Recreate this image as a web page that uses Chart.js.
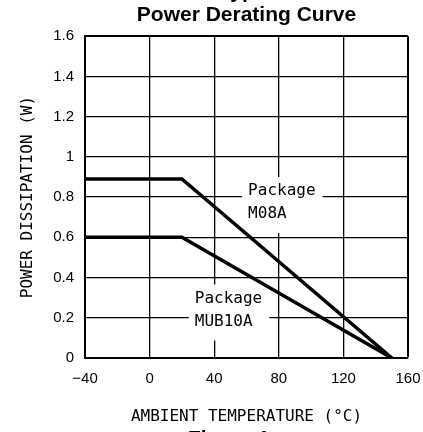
<!DOCTYPE html>
<html>
<head>
<meta charset="utf-8">
<script src="https://cdn.jsdelivr.net/npm/chart.js@4.4.1/dist/chart.umd.min.js"></script>
<style>
  html, body { margin: 0; padding: 0; background: #fff; overflow: hidden; }
  #wrap { position: relative; width: 423px; height: 432px; }
  #wrap canvas { display: block; }
  .cut { position: absolute; font-family: "Liberation Sans", Arial, sans-serif; font-weight: bold; font-size: 21px; line-height: 24px; white-space: nowrap; color: #000; }
  #topline { top: -21px; left: 219px; }
  #figline { top: 426px; left: 188px; }
</style>
</head>
<body>
<div id="wrap">
  <canvas id="chart-canvas" width="423" height="432"></canvas>
  <div class="cut" id="topline">Typical</div>
  <div class="cut" id="figline">Figure 1.</div>
</div>
<script>
// data
const tempC = [-40, 20, 150];
const m08a = [0.89, 0.89, 0];
const mub10a = [0.6, 0.6, 0];
const xTicks = [-40, 0, 40, 80, 120, 160];
const yTicks = [0, 0.2, 0.4, 0.6, 0.8, 1, 1.2, 1.4, 1.6];

// inline package labels (data units: left edge of text, centre of first line)
const labelLines = [['Package', 'M08A'], ['Package', 'MUB10A']];
const labelX = [61, 28];
const labelY = [0.83, 0.296];

const labelFont = '16px "DejaVu Sans Mono", monospace';
const monoFont = { family: '"DejaVu Sans Mono", monospace', size: 16 };
const tickFont = { family: '"Liberation Sans", Arial, sans-serif', size: 15 };

const pts = (ys) => tempC.map((t, i) => ({ x: t, y: ys[i] }));

// white boxes behind the package names, cut into the grid like the original
const labelPlugin = {
    id: 'pkgLabels',
    beforeDatasetsDraw(chart) {
        const ctx = chart.ctx, xs = chart.scales.x, ys = chart.scales.y;
        ctx.save();
        ctx.font = labelFont;
        ctx.textBaseline = 'middle';
        ctx.textAlign = 'left';
        labelLines.forEach((lines, i) => {
            const lx = xs.getPixelForValue(labelX[i]);
            const ly = ys.getPixelForValue(labelY[i]);
            const lh = 23;
            const w = Math.max(...lines.map(s => ctx.measureText(s).width));
            ctx.fillStyle = '#fff';
            ctx.fillRect(lx - 6, ly - 14, w + 13, lh * (lines.length - 1) + 33);
            ctx.fillStyle = '#000';
            lines.forEach((s, j) => ctx.fillText(s, lx, ly + j * lh));
        });
        ctx.restore();
    }
};

const edge = (max) => (c) => (c.tick && c.tick.value === max ? 2 : 1.3);

window.theChart = new Chart(document.getElementById('chart-canvas').getContext('2d'), {
    type: 'line',
    data: {
        datasets: [
            { label: 'M08A', data: pts(m08a), borderColor: '#000', borderWidth: 3.5, pointRadius: 0, fill: false, tension: 0 },
            { label: 'MUB10A', data: pts(mub10a), borderColor: '#000', borderWidth: 3.5, pointRadius: 0, fill: false, tension: 0 }
        ]
    },
    options: {
        responsive: false,
        animation: false,
        events: [],
        layout: { padding: { top: 0, right: 15, left: 0, bottom: 0 } },
        plugins: {
            legend: { display: false },
            tooltip: { enabled: false },
            title: {
                display: true,
                text: 'Power Derating Curve',
                fullSize: false,
                color: '#000',
                font: { family: '"Liberation Sans", Arial, sans-serif', size: 21, weight: 'bold', lineHeight: 1.2 },
                padding: { top: 3, bottom: 8 }
            }
        },
        scales: {
            x: {
                type: 'linear',
                min: xTicks[0],
                max: xTicks[xTicks.length - 1],
                afterBuildTicks: (s) => { s.ticks = xTicks.map(v => ({ value: v })); },
                afterFit: (s) => { s.height = 74; s.paddingRight = 0; s.paddingLeft = 0; },
                grid: { color: '#000', lineWidth: edge(160), drawTicks: false },
                border: { color: '#000', width: 2 },
                ticks: {
                    color: '#000', font: tickFont, padding: 12, maxRotation: 0,
                    callback: (v) => (v < 0 ? '\u2212' + Math.abs(v) : String(v))
                },
                title: { display: true, text: 'AMBIENT TEMPERATURE (\u00B0C)', color: '#000', font: monoFont, padding: { top: 0, bottom: 6 } }
            },
            y: {
                type: 'linear',
                min: yTicks[0],
                max: yTicks[yTicks.length - 1],
                afterBuildTicks: (s) => { s.ticks = yTicks.map(v => ({ value: v })); },
                afterFit: (s) => { s.width = 85; },
                grid: { color: '#000', lineWidth: edge(1.6), drawTicks: false },
                border: { color: '#000', width: 2 },
                ticks: { color: '#000', font: tickFont, padding: 11, callback: (v) => String(v) },
                title: { display: true, text: 'POWER DISSIPATION (W)', color: '#000', font: monoFont, padding: { top: 18, bottom: 0 } }
            }
        }
    },
    plugins: [labelPlugin]
});
</script>
</body>
</html>
